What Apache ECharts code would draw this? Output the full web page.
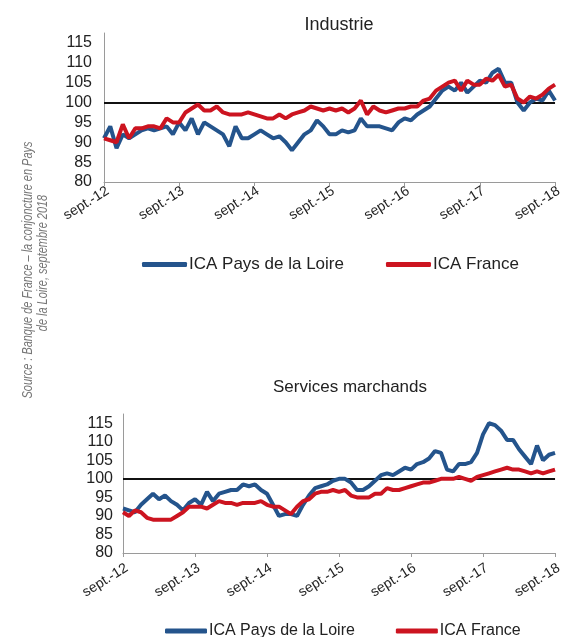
<html>
<head>
<meta charset="UTF-8">
<script src="https://cdn.jsdelivr.net/npm/echarts@6/dist/echarts.min.js"></script>
<style>
  body { margin: 0; background: #fff; }
</style>
</head>
<body>
	<div id="chart" style="height: 637px; width: 565px"></div>
</body>
<script>
	// mois de sept.-12 à sept.-18 (73 points mensuels)
	var moisNoms = ['sept.', 'oct.', 'nov.', 'déc.', 'janv.', 'févr.', 'mars', 'avr.', 'mai', 'juin', 'juil.', 'août'];
	var anneeDebut = 12;
	var nbMois = 73;

	// graduations 80..115, l'axe monte un peu au-dessus de 115
	var yMin = 80;
	var yMax = 117.5;
	var yPas = 5;

	// Industrie
	var indLoire = [91, 94, 88.5, 92, 91, 92, 93, 93.5, 93, 93.5, 94, 92, 95, 93, 96, 92, 95, 94, 93, 92,
		89, 94, 91, 91, 92, 93, 92, 91, 91.5, 90, 88, 90, 92, 93, 95.5, 94, 92, 92, 93, 92.5,
		93, 96, 94, 94, 94, 93.5, 93, 95, 96, 95.5, 97, 98, 99, 101, 103, 104, 103, 105, 102.5, 104,
		105.5, 105, 107.5, 108.5, 105, 105, 100, 98, 100, 101, 100.5, 103, 100.5];
	var indFrance = [91, 90.5, 90, 94.5, 91, 93.5, 93.5, 94, 94, 93.5, 96, 95, 95, 97.5, 98.5, 99.5, 98, 98, 99, 97.5,
		97, 97, 97, 97.5, 97, 96.5, 96, 96, 97, 96, 97, 97.5, 98, 99, 98.5, 98, 98.5, 98, 98.5, 97.5,
		98.5, 100.5, 97, 99, 98, 97.5, 98, 98.5, 98.5, 99, 99, 100.5, 101, 103, 104, 105, 105.5, 103, 105.5, 104.5,
		104.5, 106, 105.5, 107, 104, 104.5, 101, 100, 101.5, 101, 102, 103.5, 104.5];

	// Services marchands
	var servLoire = [92, 91.5, 91, 93, 94.5, 96, 94.5, 95.5, 94, 93, 91.5, 93.5, 94.5, 93, 96.5, 94, 96, 96.5, 97, 97,
		98.5, 98, 98.5, 97, 96, 93, 90, 90.5, 90.5, 90, 93, 95.5, 97.5, 98, 98.5, 99.5, 100, 100, 99, 97,
		97, 98, 99.5, 101, 101.5, 101, 102, 103, 102.5, 104, 104.5, 105.5, 107.5, 107, 102.5, 102, 104, 104, 104.5, 107,
		112, 115, 114.5, 113, 110.5, 110.5, 108, 106, 104, 109, 105, 106.5, 107];
	var servFrance = [91, 90, 91.5, 91, 89.5, 89, 89, 89, 89, 90, 91, 92.5, 92.5, 92.5, 92, 93, 94, 93.5, 93.5, 93,
		93.5, 93.5, 93.5, 94, 93, 92.5, 92.5, 91.5, 90.5, 92.5, 94, 94.5, 96, 96.5, 96.5, 97, 96.5, 97, 95.5, 95,
		95, 95, 96, 96, 97.5, 97, 97, 97.5, 98, 98.5, 99, 99, 99.5, 100, 100, 100, 100.5, 100, 99.5, 100.5,
		101, 101.5, 102, 102.5, 103, 102.5, 102.5, 102, 101.5, 102, 101.5, 102, 102.5];

	var nomLoire = 'ICA Pays de la Loire';
	var nomFrance = 'ICA France';
	var couleurLoire = '#24548c';
	var couleurFrance = '#cc1420';

	var categories = [];
	for (var i = 0; i < nbMois; i++) {
		var idx = i % 12;
		var an = anneeDebut + Math.floor((i + 8) / 12);
		categories.push(moisNoms[idx] + '-' + an);
	}

	var chart = echarts.init(document.getElementById('chart'));

	function axeX(gridIndex, marge) {
		return {
			type : 'category',
			gridIndex : gridIndex,
			data : categories,
			boundaryGap : false,
			axisLine : { lineStyle : { color : '#9a9a9a', width : 1 } },
			axisTick : { show : true, interval : 11, length : 4, lineStyle : { color : '#9a9a9a' } },
			axisLabel : {
				interval : 11,
				rotate : 32,
				margin : marge,
				verticalAlign : 'top',
				color : '#222',
				fontFamily : 'Liberation Sans, Arial',
				fontSize : 14
			},
			splitLine : { show : false }
		};
	}

	function axeY(gridIndex, marge) {
		return {
			type : 'value',
			gridIndex : gridIndex,
			min : yMin,
			max : yMax,
			interval : yPas,
			axisLine : { show : true, lineStyle : { color : '#9a9a9a', width : 1 } },
			axisTick : { show : false },
			axisLabel : {
				margin : marge,
				showMaxLabel : false,
				color : '#222',
				fontFamily : 'Liberation Sans, Arial',
				fontSize : 16
			},
			splitLine : { show : false }
		};
	}

	function serie(nom, data, couleur, index, avecRef) {
		var s = {
			name : nom,
			type : 'line',
			xAxisIndex : index,
			yAxisIndex : index,
			data : data,
			showSymbol : false,
			symbol : 'none',
			lineStyle : { width : 4, color : couleur },
			itemStyle : { color : couleur },
			z : 3
		};
		if (avecRef) {
			s.markLine = {
				silent : true,
				symbol : 'none',
				label : { show : false },
				lineStyle : { color : '#111', width : 2, type : 'solid' },
				data : [ { yAxis : 100 } ],
				z : 2
			};
		}
		return s;
	}

	function legende(top, left, largeur, ecart, taille) {
		return {
			top : top,
			left : left,
			data : [ nomLoire, nomFrance ],
			icon : 'roundRect',
			itemWidth : largeur,
			itemHeight : 5,
			itemGap : ecart,
			textStyle : {
				color : '#222',
				fontFamily : 'Liberation Sans, Arial',
				fontSize : taille,
				padding : [0, 0, 0, -3]
			}
		};
	}

	function texteSource(texte, x, y) {
		return {
			type : 'text',
			x : x,
			y : y,
			rotation : Math.PI / 2,
			scaleX : 0.73,
			style : {
				text : texte,
				fill : '#777',
				font : 'italic 15px "Liberation Sans", Arial',
				textAlign : 'center',
				textVerticalAlign : 'middle'
			}
		};
	}

	var option = {
		animation : false,
		title : [ {
			text : 'Industrie',
			left : 334,
			top : 11,
			textAlign : 'center',
			textStyle : { fontFamily : 'Liberation Sans, Arial', fontWeight : 'normal', fontSize : 18, color : '#222' }
		}, {
			text : 'Services marchands',
			left : 345,
			top : 374,
			textAlign : 'center',
			textStyle : { fontFamily : 'Liberation Sans, Arial', fontWeight : 'normal', fontSize : 17, color : '#222' }
		} ],
		legend : [ legende(251, 137, 45, 42, 17), legende(618, 160, 42, 41, 16) ],
		grid : [
			{ left : 104, right : 6, top : 33, height : 149 },
			{ left : 123, right : 3, top : 414, height : 139 }
		],
		xAxis : [ axeX(0, 2), axeX(1, 8) ],
		yAxis : [ axeY(0, 12), axeY(1, 10) ],
		series : [
			serie(nomLoire, indLoire, couleurLoire, 0, true),
			serie(nomFrance, indFrance, couleurFrance, 0, false),
			serie(nomLoire, servLoire, couleurLoire, 1, true),
			serie(nomFrance, servFrance, couleurFrance, 1, false)
		],
		graphic : [
			texteSource('Source : Banque de France – la conjoncture en Pays', 28, 270),
			texteSource('de la Loire, septembre 2018', 43, 263)
		]
	};

	chart.setOption(option);
</script>
</html>
